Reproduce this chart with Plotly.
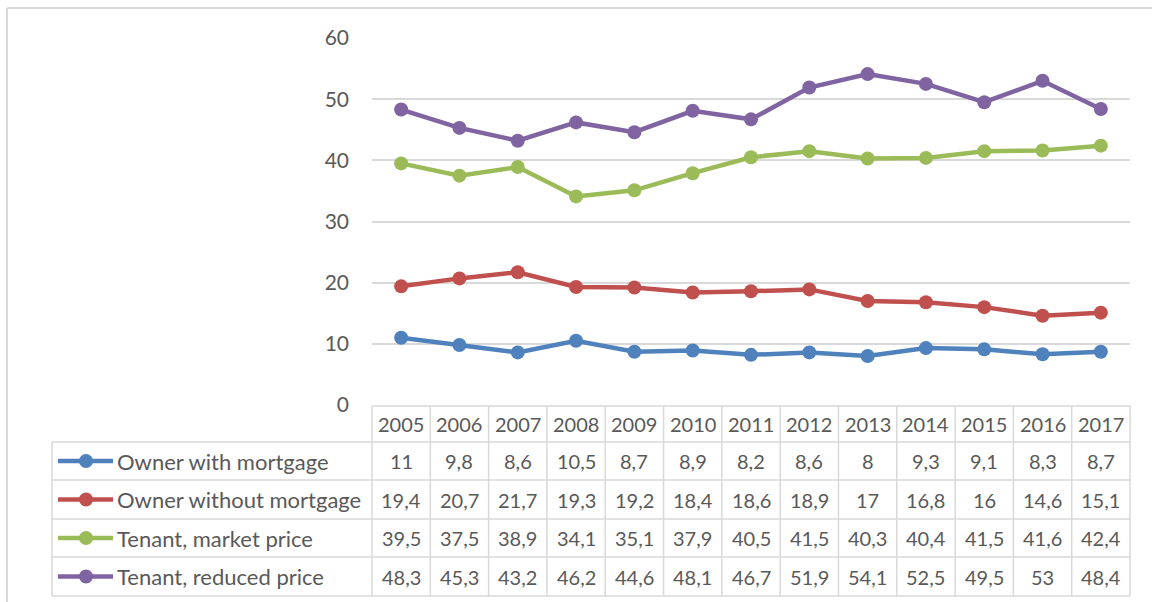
import plotly.graph_objects as go

years = [2005, 2006, 2007, 2008, 2009, 2010, 2011, 2012, 2013, 2014, 2015, 2016, 2017]
series_names = ["Owner with mortgage", "Owner without mortgage",
                "Tenant, market price", "Tenant, reduced price"]
owner_mortgage = [11, 9.8, 8.6, 10.5, 8.7, 8.9, 8.2, 8.6, 8, 9.3, 9.1, 8.3, 8.7]
owner_no_mortgage = [19.4, 20.7, 21.7, 19.3, 19.2, 18.4, 18.6, 18.9, 17, 16.8, 16, 14.6, 15.1]
tenant_market = [39.5, 37.5, 38.9, 34.1, 35.1, 37.9, 40.5, 41.5, 40.3, 40.4, 41.5, 41.6, 42.4]
tenant_reduced = [48.3, 45.3, 43.2, 46.2, 44.6, 48.1, 46.7, 51.9, 54.1, 52.5, 49.5, 53, 48.4]
y_ticks = [0, 10, 20, 30, 40, 50, 60]

series_values = [owner_mortgage, owner_no_mortgage, tenant_market, tenant_reduced]
colors = ["#4F81BD", "#C0504D", "#9BBB59", "#8064A2"]

W, H = 1152, 602
FONT = "Lato"
TXT = "#595959"
GRID = "#D9D9D9"

def px(x):
    return x / W

def py(y):
    return 1 - y / H

x_left, x_right = 372, 1130
y_top, y_zero = 38, 405

fig = go.Figure()
for name, vals, c in zip(series_names, series_values, colors):
    fig.add_trace(go.Scatter(
        x=years, y=vals, name=name, mode="lines+markers",
        line=dict(color=c, width=4.5),
        marker=dict(color=c, size=14),
        showlegend=False, hoverinfo="x+y+name"))

shapes = []
annotations = []

def hline(y, x0, x1, color=GRID, w=1.5):
    shapes.append(dict(type="line", xref="paper", yref="paper",
                       x0=px(x0), x1=px(x1), y0=py(y), y1=py(y),
                       line=dict(color=color, width=w)))

def vline(x, y0, y1, color=GRID, w=1.5):
    shapes.append(dict(type="line", xref="paper", yref="paper",
                       x0=px(x), x1=px(x), y0=py(y0), y1=py(y1),
                       line=dict(color=color, width=w)))

# outer chart border
vline(7, 8, H + 5, w=2)
hline(8, 7, W + 5, w=2)

# table geometry
ncol = len(years)
colw = (x_right - x_left) / ncol
row_edges = [406, 442, 480, 519, 557, 596]
tbl_left = 52

hline(row_edges[0], x_left, x_right)
for ry in row_edges[1:]:
    hline(ry, tbl_left, x_right)
for i in range(ncol + 1):
    vline(x_left + i * colw, row_edges[0], row_edges[-1])
vline(tbl_left, row_edges[1], row_edges[-1])

# header years
hc = (row_edges[0] + row_edges[1]) / 2
for i, yr in enumerate(years):
    annotations.append(dict(xref="paper", yref="paper",
                            x=px(x_left + (i + 0.5) * colw), y=py(hc),
                            text=str(yr), showarrow=False,
                            xanchor="center", yanchor="middle",
                            font=dict(family=FONT, size=20, color=TXT)))

def fmt(v):
    return f"{v:g}".replace(".", ",")

for r, (name, vals, c) in enumerate(zip(series_names, series_values, colors)):
    rc = (row_edges[r + 1] + row_edges[r + 2]) / 2
    # legend key
    shapes.append(dict(type="line", xref="paper", yref="paper",
                       x0=px(58), x1=px(113), y0=py(rc), y1=py(rc),
                       line=dict(color=c, width=4.5)))
    shapes.append(dict(type="circle", xref="paper", yref="paper",
                       x0=px(86 - 7), x1=px(86 + 7), y0=py(rc + 7), y1=py(rc - 7),
                       fillcolor=c, line=dict(color=c, width=0)))
    annotations.append(dict(xref="paper", yref="paper", x=px(115), y=py(rc),
                            text=name, showarrow=False,
                            xanchor="left", yanchor="middle",
                            font=dict(family=FONT, size=22, color=TXT)))
    for i, v in enumerate(vals):
        annotations.append(dict(xref="paper", yref="paper",
                                x=px(x_left + (i + 0.5) * colw), y=py(rc),
                                text=fmt(v), showarrow=False,
                                xanchor="center", yanchor="middle",
                                font=dict(family=FONT, size=20, color=TXT)))

fig.update_layout(
    width=W, height=H, autosize=False,
    margin=dict(l=0, r=0, t=0, b=0, pad=0, autoexpand=False),
    paper_bgcolor="white", plot_bgcolor="white",
    shapes=shapes, annotations=annotations,
    xaxis=dict(domain=[px(x_left), px(x_right)], range=[2004.5, 2017.5],
               showgrid=False, zeroline=False, showticklabels=False,
               showline=False, fixedrange=True, automargin=False),
    yaxis=dict(domain=[py(y_zero), py(y_top)], range=[0, 60],
               tickvals=y_ticks, showgrid=True, gridcolor=GRID, gridwidth=1.5,
               zeroline=False, showline=False, ticks="",
               ticklabelstandoff=22, automargin=False,
               tickfont=dict(family=FONT, size=21, color=TXT)),
)

post = ("document.body.style.margin='0';document.body.style.padding='0';"
        "document.body.style.overflow='hidden';"
        "var d=document.getElementById('{plot_id}');"
        "d.style.position='absolute';d.style.left='0px';d.style.top='0px';")

fig.write_html("out.html", post_script=post,
               config={"displayModeBar": False, "responsive": False})
